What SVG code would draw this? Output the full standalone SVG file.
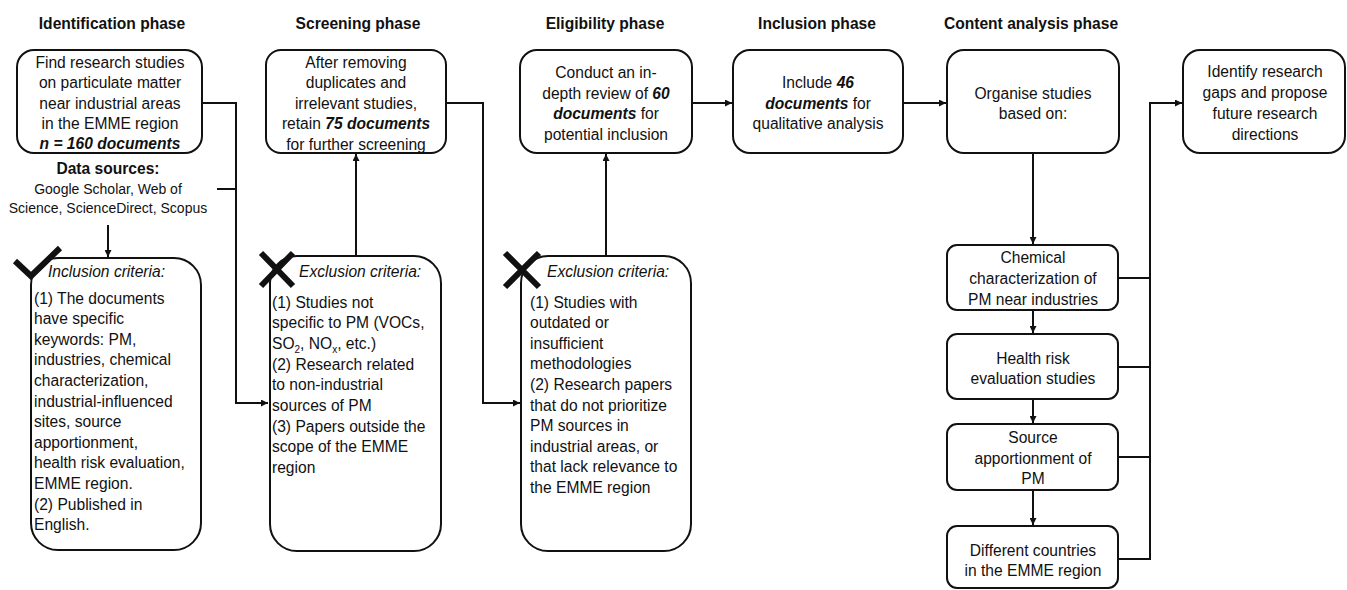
<svg xmlns="http://www.w3.org/2000/svg" width="1347" height="590" viewBox="0 0 1347 590">
<style>
text{font-family:"Liberation Sans",Arial,sans-serif;font-size:15.6px;fill:#111}
.t{font-weight:bold;text-anchor:middle}
.c{text-anchor:middle}
.bi{font-weight:bold;font-style:italic}
.it{font-style:italic}
.box{fill:#fff;stroke:#111;stroke-width:2}
.ln{fill:none;stroke:#111;stroke-width:2}
.mk{fill:none;stroke:#111;stroke-width:6}
.src{font-size:14px}
</style>
<defs>
<marker id="ah" viewBox="0 0 10 10" refX="10" refY="5" markerWidth="8" markerHeight="7" markerUnits="userSpaceOnUse" orient="auto">
<path d="M0,0 L10,5 L0,10 z" fill="#111"/>
</marker>
</defs>
<rect width="1347" height="590" fill="#fff"/>

<g id="titles">
<text class="t" x="112" y="29">Identification phase</text>
<text class="t" x="358" y="29">Screening phase</text>
<text class="t" x="605" y="29">Eligibility phase</text>
<text class="t" x="817" y="29">Inclusion phase</text>
<text class="t" x="1031" y="29">Content analysis phase</text>
</g>

<g id="connectors">
<polyline class="ln" points="202,103 236,103 236,403 268,403" marker-end="url(#ah)"/>
<line class="ln" x1="217" y1="189" x2="236" y2="189"/>
<line class="ln" x1="108" y1="225" x2="108" y2="257" marker-end="url(#ah)"/>
<line class="ln" x1="356" y1="256" x2="356" y2="154" marker-end="url(#ah)"/>
<polyline class="ln" points="446,103 483,103 483,403 520,403" marker-end="url(#ah)"/>
<line class="ln" x1="606" y1="256" x2="606" y2="154" marker-end="url(#ah)"/>
<line class="ln" x1="692" y1="103" x2="732" y2="103" marker-end="url(#ah)"/>
<line class="ln" x1="903" y1="103" x2="946" y2="103" marker-end="url(#ah)"/>
<line class="ln" x1="1033" y1="153" x2="1033" y2="244" marker-end="url(#ah)"/>
<line class="ln" x1="1033" y1="310" x2="1033" y2="333" marker-end="url(#ah)"/>
<line class="ln" x1="1033" y1="399" x2="1033" y2="423" marker-end="url(#ah)"/>
<line class="ln" x1="1033" y1="490" x2="1033" y2="525" marker-end="url(#ah)"/>
<polyline class="ln" points="1118,559 1150,559 1150,103 1182,103" marker-end="url(#ah)"/>
<line class="ln" x1="1118" y1="278" x2="1150" y2="278"/>
<line class="ln" x1="1118" y1="367" x2="1150" y2="367"/>
<line class="ln" x1="1118" y1="457" x2="1150" y2="457"/>
</g>

<g id="identify">
<rect class="box" x="17" y="50" width="185" height="103" rx="17"/>
<text class="c" x="110" y="67.5">Find research studies</text>
<text class="c" x="110" y="88">on particulate matter</text>
<text class="c" x="110" y="108.5">near industrial areas</text>
<text class="c" x="110" y="128.5">in the EMME region</text>
<text class="c bi" x="110" y="148.5">n = 160 documents</text>
</g>

<g id="datasources">
<text class="t" x="108" y="173.5">Data sources:</text>
<text class="c src" x="108" y="194">Google Scholar, Web of</text>
<text class="c src" x="108" y="213">Science, ScienceDirect, Scopus</text>
</g>

<g id="inclusion-criteria">
<rect class="box" x="31" y="258" width="170" height="292" rx="27"/>
<polyline class="mk" points="15,261 31,276 60,248"/>
<text class="it" x="48" y="276.5">Inclusion criteria:</text>
<text x="34" y="303.5">(1) The documents</text>
<text x="34" y="324.1">have specific</text>
<text x="34" y="344.7">keywords: PM,</text>
<text x="34" y="365.3">industries, chemical</text>
<text x="34" y="385.9">characterization,</text>
<text x="34" y="406.5">industrial-influenced</text>
<text x="34" y="427.1">sites, source</text>
<text x="34" y="447.7">apportionment,</text>
<text x="34" y="468.3">health risk evaluation,</text>
<text x="34" y="488.9">EMME region.</text>
<text x="34" y="509.5">(2) Published in</text>
<text x="34" y="530.1">English.</text>
</g>

<g id="screening">
<rect class="box" x="266" y="50" width="180" height="103" rx="15"/>
<text class="c" x="356" y="67.5">After removing</text>
<text class="c" x="356" y="88">duplicates and</text>
<text class="c" x="356" y="108.5">irrelevant studies,</text>
<text class="c" x="356" y="129">retain <tspan class="bi">75 documents</tspan></text>
<text class="c" x="356" y="149.5">for further screening</text>
</g>

<g id="exclusion1">
<rect class="box" x="270" y="256" width="171" height="295" rx="27"/>
<path class="mk" d="M261,253 L293,286 M293,253 L261,286"/>
<text class="it" x="299" y="276.5">Exclusion criteria:</text>
<text x="272" y="307.5">(1) Studies not</text>
<text x="272" y="328.2">specific to PM (VOCs,</text>
<text x="272" y="348.9">SO<tspan font-size="10" dy="4">2</tspan><tspan dy="-4">, NO</tspan><tspan font-size="10" dy="4">x</tspan><tspan dy="-4">, etc.)</tspan></text>
<text x="272" y="369.6">(2) Research related</text>
<text x="272" y="390.3">to non-industrial</text>
<text x="272" y="411">sources of PM</text>
<text x="272" y="431.7">(3) Papers outside the</text>
<text x="272" y="452.4">scope of the EMME</text>
<text x="272" y="473.1">region</text>
</g>

<g id="eligibility">
<rect class="box" x="520" y="50" width="172" height="103" rx="17"/>
<text class="c" x="606" y="77.5">Conduct an in-</text>
<text class="c" x="606" y="98.5">depth review of <tspan class="bi">60</tspan></text>
<text class="c" x="606" y="119"><tspan class="bi">documents</tspan> for</text>
<text class="c" x="606" y="140">potential inclusion</text>
</g>

<g id="exclusion2">
<rect class="box" x="521" y="256" width="170" height="295" rx="27"/>
<path class="mk" d="M505,253 L539,287 M539,253 L505,287"/>
<text class="it" x="547" y="276.5">Exclusion criteria:</text>
<text x="530" y="307.5">(1) Studies with</text>
<text x="530" y="328.1">outdated or</text>
<text x="530" y="348.7">insufficient</text>
<text x="530" y="369.3">methodologies</text>
<text x="530" y="389.9">(2) Research papers</text>
<text x="530" y="410.5">that do not prioritize</text>
<text x="530" y="431.1">PM sources in</text>
<text x="530" y="451.7">industrial areas, or</text>
<text x="530" y="472.3">that lack relevance to</text>
<text x="530" y="492.9">the EMME region</text>
</g>

<g id="inclusion">
<rect class="box" x="733" y="50" width="170" height="103" rx="17"/>
<text class="c" x="818" y="87.5">Include <tspan class="bi">46</tspan></text>
<text class="c" x="818" y="108.5"><tspan class="bi">documents</tspan> for</text>
<text class="c" x="818" y="128.5">qualitative analysis</text>
</g>

<g id="organise">
<rect class="box" x="947" y="50" width="172" height="103" rx="17"/>
<text class="c" x="1033" y="98.5">Organise studies</text>
<text class="c" x="1033" y="118.5">based on:</text>
</g>

<g id="gaps">
<rect class="box" x="1183" y="50" width="162" height="103" rx="17"/>
<text class="c" x="1265" y="76.5">Identify research</text>
<text class="c" x="1265" y="98">gaps and propose</text>
<text class="c" x="1265" y="118.5">future research</text>
<text class="c" x="1265" y="139.5">directions</text>
</g>

<g id="chemical">
<rect class="box" x="947" y="245" width="171" height="65" rx="10"/>
<text class="c" x="1033" y="262.5">Chemical</text>
<text class="c" x="1033" y="283.5">characterization of</text>
<text class="c" x="1033" y="304.5">PM near industries</text>
</g>

<g id="health">
<rect class="box" x="947" y="334" width="171" height="65" rx="10"/>
<text class="c" x="1033" y="363.5">Health risk</text>
<text class="c" x="1033" y="383.5">evaluation studies</text>
</g>

<g id="source">
<rect class="box" x="947" y="424" width="171" height="66" rx="10"/>
<text class="c" x="1033" y="442.5">Source</text>
<text class="c" x="1033" y="463.5">apportionment of</text>
<text class="c" x="1033" y="483.5">PM</text>
</g>

<g id="countries">
<rect class="box" x="947" y="526" width="171" height="62" rx="10"/>
<text class="c" x="1033" y="555.5">Different countries</text>
<text class="c" x="1033" y="575.5">in the EMME region</text>
</g>
</svg>
